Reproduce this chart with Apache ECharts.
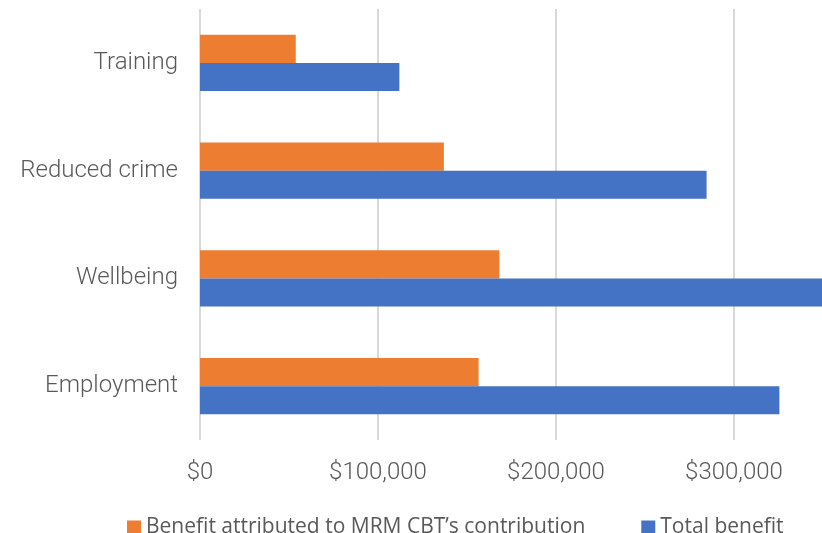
<!DOCTYPE html>
<html>
<head>
<meta charset="utf-8">
<script src="https://cdn.jsdelivr.net/npm/echarts@6/dist/echarts.min.js"></script>
<style>
  html, body { margin: 0; padding: 0; background: #ffffff; }
  #chart { width: 822px; height: 533px; }
</style>
</head>
<body>
<div id="chart"></div>
<script>
// Categories, bottom to top on the value chart
const categories = ['Employment', 'Wellbeing', 'Reduced crime', 'Training'];
// Benefit attributed to MRM CBT's contribution ($)
const attributedBenefit = [156500, 168200, 137000, 53800];
// Total benefit ($)
const totalBenefit = [325500, 350000, 284600, 112000];
const seriesNames = ["Benefit attributed to MRM CBT\u2019s contribution", 'Total benefit'];
const seriesColors = ['#ED7D31', '#4472C4'];

const chart = echarts.init(document.getElementById('chart'), null, { renderer: 'canvas' });

const labelColor = '#595959';

chart.setOption({
  animation: false,
  backgroundColor: '#ffffff',
  grid: { left: 200, top: 9, width: 712, height: 431, containLabel: false, outerBoundsMode: 'none' },
  legend: {
    left: 127,
    top: 517,
    padding: 0,
    itemWidth: 14,
    itemHeight: 14,
    itemGap: 56,
    icon: 'rect',
    data: seriesNames,
    textStyle: { fontFamily: 'Open Sans', fontSize: 21, color: labelColor }
  },
  xAxis: {
    type: 'value',
    min: 0,
    max: 400000,
    interval: 100000,
    axisLine: { show: false },
    axisTick: { show: false },
    splitLine: { lineStyle: { color: '#d9d9d9', width: 2 } },
    axisLabel: {
      margin: 21,
      fontFamily: 'Roboto',
      fontWeight: 300,
      fontSize: 24,
      color: labelColor,
      formatter: v => '$' + v.toLocaleString('en-US')
    }
  },
  yAxis: {
    type: 'category',
    data: categories,
    axisLine: { show: false },
    axisTick: { show: false },
    axisLabel: {
      margin: 22,
      padding: [4, 0, 0, 0],
      fontFamily: 'Roboto',
      fontWeight: 300,
      fontSize: 24,
      color: labelColor
    }
  },
  series: [
    {
      name: seriesNames[0],
      type: 'bar',
      data: attributedBenefit,
      itemStyle: { color: seriesColors[0] },
      barGap: '0%',
      barCategoryGap: '48%'
    },
    {
      name: seriesNames[1],
      type: 'bar',
      data: totalBenefit,
      itemStyle: { color: seriesColors[1] },
      barGap: '0%',
      barCategoryGap: '48%'
    }
  ]
});
</script>
</body>
</html>
